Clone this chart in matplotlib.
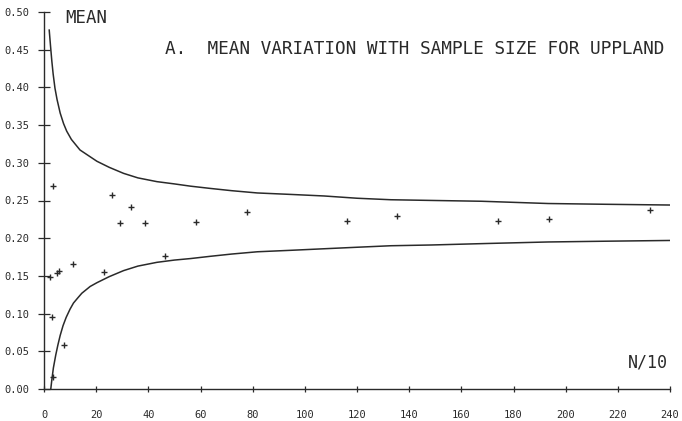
import matplotlib
matplotlib.use("Agg")
import matplotlib.pyplot as plt

# Upper confidence curve
upper_x = [2.0, 2.5, 3.0, 3.5, 4.2, 5.0, 6.2, 7.5, 8.7, 10.5, 13.8, 17.7, 20.3, 25.0, 30.5,
           36.0, 43.3, 50.0, 56.2, 63.8, 72.0, 81.8, 95.0, 107.4, 120.0, 133.0, 150.0,
           167.7, 193.3, 215.0, 240.0]
upper_y = [0.476, 0.455, 0.435, 0.418, 0.399, 0.384, 0.366, 0.352, 0.342, 0.331, 0.317, 0.308,
           0.302, 0.294, 0.286, 0.280, 0.275, 0.272, 0.269, 0.266, 0.263, 0.260, 0.258,
           0.256, 0.253, 0.251, 0.250, 0.249, 0.246, 0.245, 0.244]

# Lower confidence curve
lower_x = [2.6, 3.0, 3.6, 4.5, 5.3, 6.2, 7.3, 8.5, 10.0, 11.3, 13.0, 14.5, 17.7, 20.3, 25.0,
           30.5, 36.0, 43.3, 50.0, 56.2, 63.8, 72.0, 81.8, 95.0, 107.4, 120.0, 133.0, 148.5,
           170.0, 193.3, 215.0, 240.0]
lower_y = [0.000, 0.012, 0.028, 0.045, 0.058, 0.071, 0.084, 0.095, 0.106, 0.114, 0.121, 0.127,
           0.136, 0.141, 0.149, 0.157, 0.163, 0.168, 0.171, 0.173, 0.176, 0.179, 0.182,
           0.184, 0.186, 0.188, 0.190, 0.191, 0.193, 0.195, 0.196, 0.197]

# Sample means
pts_x = [3.3, 2.3, 4.9, 5.8, 11.3, 2.9, 7.8, 3.6, 23.1, 26.0, 29.2, 33.3, 38.8, 46.5, 58.3,
         77.7, 116.2, 135.4, 174.1, 193.7, 232.4]
pts_y = [0.269, 0.149, 0.154, 0.157, 0.166, 0.096, 0.058, 0.016, 0.155, 0.257, 0.220, 0.241,
         0.220, 0.176, 0.221, 0.235, 0.223, 0.229, 0.223, 0.226, 0.238]

x_ticks = list(range(0, 241, 20))
y_ticks = [0.00, 0.05, 0.10, 0.15, 0.20, 0.25, 0.30, 0.35, 0.40, 0.45, 0.50]
y_ticklabels = ["%.2f" % v for v in y_ticks]

title_text = "A.  MEAN VARIATION WITH SAMPLE SIZE FOR UPPLAND"

ink = "#2a2a2a"
plt.rcParams['font.family'] = ['DejaVu Sans Mono', 'DejaVu Sans']

fig = plt.figure(figsize=(6.82, 4.21), dpi=100)
ax = fig.add_axes([44 / 682, 1 - 389 / 421, 626 / 682, 377 / 421])

ax.plot(upper_x, upper_y, color=ink, lw=1.1, solid_joinstyle='round')
ax.plot(lower_x, lower_y, color=ink, lw=1.1, solid_joinstyle='round')
ax.plot(pts_x, pts_y, linestyle='none', marker='+', markersize=5, mew=1.0, color=ink,
        clip_on=False)

ax.set_xlim(0, 240)
ax.set_ylim(0, 0.5)
for s in ['top', 'right']:
    ax.spines[s].set_visible(False)
for s in ['left', 'bottom']:
    ax.spines[s].set_color(ink)
    ax.spines[s].set_linewidth(1.0)

ax.set_xticks(x_ticks)
ax.set_xticklabels([str(v) for v in x_ticks])
ax.set_yticks(y_ticks)
ax.set_yticklabels(y_ticklabels)
ax.tick_params(axis='y', direction='inout', length=9, width=0.9, color=ink,
               labelsize=7.5, labelcolor=ink, pad=6)
ax.tick_params(axis='x', direction='inout', length=4, width=0.9, color=ink,
               labelsize=7.5, labelcolor=ink, pad=13)

ax.text(0.0335, 0.983, "MEAN", transform=ax.transAxes, ha='left', va='center',
        fontsize=12.5, color=ink)
ax.text((664 - 44) / 626, 0.903, title_text, transform=ax.transAxes, ha='right',
        va='center', fontsize=12.8, color=ink)
ax.text(0.997, 0.069, "N/10", transform=ax.transAxes, ha='right', va='center',
        fontsize=12, color=ink)

fig.savefig("out.png", dpi=100)
